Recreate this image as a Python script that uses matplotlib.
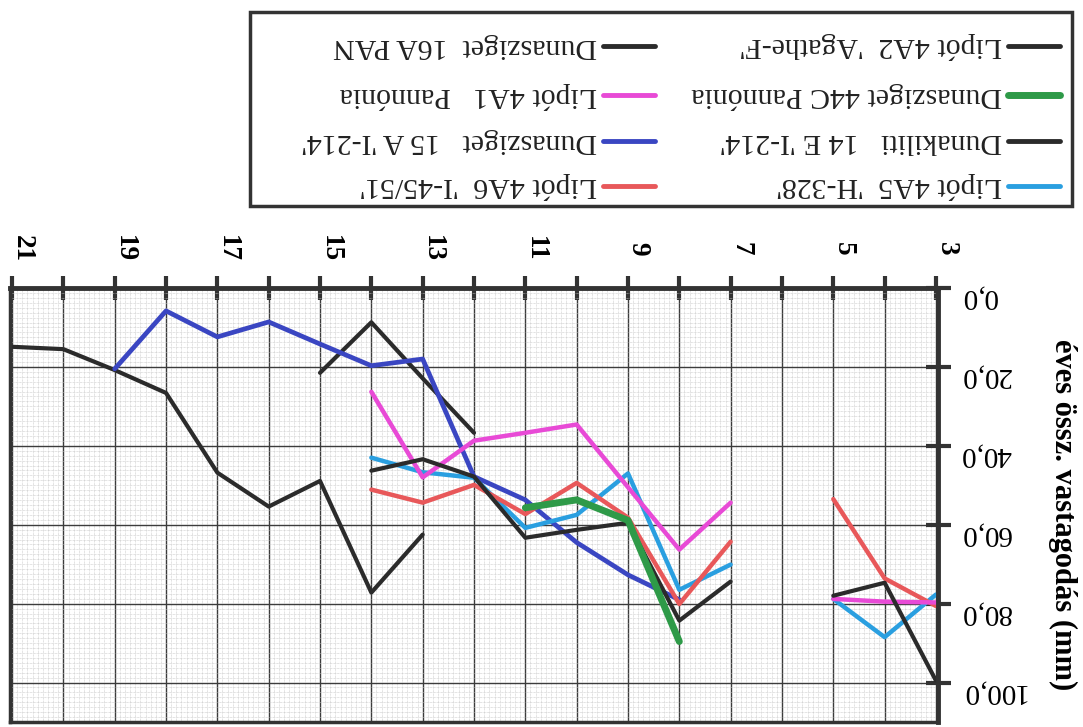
import numpy as np
import matplotlib
matplotlib.use("Agg")
import matplotlib.pyplot as plt
from matplotlib.lines import Line2D
from matplotlib.patches import Rectangle
from matplotlib.ticker import MultipleLocator
from matplotlib.transforms import ScaledTranslation

plt.rcParams['font.family'] = ['Liberation Serif', 'DejaVu Serif']

nan = np.nan

# ---- data: annual total thickening (mm) by tree age (years) ----
years_16a = [21, 20, 19, 18, 17, 16, 15, 14, 13]
dunasziget_16a = [14.9, 15.5, 20.8, 26.6, 46.8, 55.4, 48.9, 77.2, 62.5]

years_14e = [15, 14, 13, 12]
dunakiliti_14e = [21.5, 8.7, 22.9, 36.7]

years_15a = [19, 18, 17, 16, 15, 14, 13, 12, 11, 10, 9, 8]
dunasziget_15a = [20.5, 5.8, 12.4, 8.6, 14.2, 19.7, 18.0, 47.8, 53.7, 64.5, 72.7, 79.0]

years_lipot = [14, 13, 12, 11, 10, 9, 8, 7, 6, 5, 4, 3]
lipot_4a5 = [43.0, 46.7, 48.1, 60.8, 57.5, 47.0, 76.5, 70.1, nan, 78.8, 88.5, 77.7]
lipot_4a6 = [51.1, 54.4, 49.9, 57.3, 49.4, 58.2, 80.1, 64.3, nan, 53.5, 73.6, 80.6]
lipot_4a1 = [26.3, 48.0, 38.7, 36.7, 34.6, 50.5, 66.3, 54.4, nan, 78.8, 79.5, 79.7]
lipot_4a2 = [46.3, 43.4, 47.8, 63.3, 61.3, 59.5, 84.3, 74.4, nan, 78.0, 74.7, 99.5]

years_44c = [11, 10, 9, 8]
dunasziget_44c = [55.7, 53.7, 58.9, 89.6]

all_years = [3, 4, 5, 6, 7, 8, 9, 10, 11, 12, 13, 14, 15, 16, 17, 18, 19, 20, 21]
y_ticks = [0, 20, 40, 60, 80, 100]

C_BLACK = '#2b2b2b'
C_BLUE = '#3a46c2'
C_CYAN = '#2a9fe0'
C_RED = '#e8585a'
C_PINK = '#e84ad6'
C_GREEN = '#2e9a48'
C_AXIS = '#333333'

W, H = 1083, 727
fig = plt.figure(figsize=(W / 100, H / 100), dpi=100)
fig.patch.set_facecolor('white')

ax = fig.add_axes([10 / W, 1 - 722 / H, 928 / W, 434 / H])
ax.set_xlim(21.04, 2.96)
ax.set_ylim(110, 0)

# graph-paper background
ax.xaxis.set_minor_locator(MultipleLocator(0.1))
ax.yaxis.set_minor_locator(MultipleLocator(1.25))
ax.grid(which='minor', color='#c6c6c6', lw=0.5, linestyle=(0, (1, 1)))
ax.grid(which='major', color='#3c3c3c', lw=1.0)
ax.set_axisbelow(True)

ax.xaxis.tick_top()
ax.yaxis.tick_right()

x_labels = [str(y) if y % 2 == 1 else '' for y in all_years]
ax.set_xticks(all_years, labels=x_labels, rotation=270, fontweight='bold',
              ha='center', va='center')
ax.set_yticks(y_ticks, labels=[f'{v:.1f}'.replace('.', ',') for v in y_ticks],
              rotation=180, va='center', ha='left')

ax.tick_params(axis='x', which='major', direction='inout', length=17, width=3,
               color=C_AXIS, pad=20, labelsize=19.5)
ax.tick_params(axis='y', which='major', direction='inout', length=18, width=3,
               color=C_AXIS, pad=7, labelsize=21)
ax.tick_params(which='minor', length=0)

for lbl in ax.get_xticklabels():
    lbl.set_transform(lbl.get_transform() + ScaledTranslation(0.10, 0, fig.dpi_scale_trans))
for lbl in ax.get_yticklabels():
    lbl.set_transform(lbl.get_transform() + ScaledTranslation(0, -0.09, fig.dpi_scale_trans))

for name, s in ax.spines.items():
    s.set_color(C_AXIS)
    s.set_linewidth(3.5 if name in ('top', 'right') else 2.5)

ax.yaxis.set_label_position('right')
ax.set_ylabel('éves össz. vastagodás (mm)', fontsize=22, fontweight='bold')
ax.yaxis.label.set_rotation(270)
ax.yaxis.label.set_va('center')
ax.yaxis.label.set_ha('center')
ax.yaxis.set_label_coords(1.134, 0.477)

line_kw = dict(solid_capstyle='round', solid_joinstyle='round')
ax.plot(years_16a, dunasziget_16a, color=C_BLACK, lw=3.0, **line_kw)
ax.plot(years_14e, dunakiliti_14e, color=C_BLACK, lw=3.0, **line_kw)
ax.plot(years_15a, dunasziget_15a, color=C_BLUE, lw=3.4, **line_kw)
ax.plot(years_lipot, lipot_4a5, color=C_CYAN, lw=3.2, **line_kw)
ax.plot(years_lipot, lipot_4a6, color=C_RED, lw=3.2, **line_kw)
ax.plot(years_lipot, lipot_4a1, color=C_PINK, lw=3.2, **line_kw)
ax.plot(years_lipot, lipot_4a2, color=C_BLACK, lw=3.0, **line_kw)
ax.plot(years_44c, dunasziget_44c, color=C_GREEN, lw=5.0, **line_kw)

# ---- legend box (upside-down layout) ----
fig.add_artist(Rectangle((250 / W, 1 - 206 / H), 822 / W, 194 / H,
                         transform=fig.transFigure, fill=False,
                         lw=2.5, edgecolor=C_AXIS))

legend_rows = [46, 95, 141, 186]
legend_entries = [
    ("Lipót 4A2  'Agathe-F'", C_BLACK, 3.5, 1, 0),
    ("Dunasziget  16A PAN", C_BLACK, 3.5, 0, 0),
    ("Dunasziget 44C Pannónia", C_GREEN, 5.0, 1, 1),
    ("Lipót 4A1   Pannónia", C_PINK, 3.5, 0, 1),
    ("Dunakiliti   14 E 'I-214'", C_BLACK, 3.5, 1, 2),
    ("Dunasziget   15 A 'I-214'", C_BLUE, 3.5, 0, 2),
    ("Lipót 4A5  'H-328'", C_CYAN, 3.5, 1, 3),
    ("Lipót 4A6  'I-45/51'", C_RED, 3.5, 0, 3),
]
col_geom = {1: (1008, 1060, 1002), 0: (603, 655, 597)}
for text, color, lw, col, row in legend_entries:
    h0, h1, tx = col_geom[col]
    fy = 1 - legend_rows[row] / H
    fig.add_artist(Line2D([h0 / W, h1 / W], [fy, fy], transform=fig.transFigure,
                          color=color, lw=lw, solid_capstyle='round'))
    fig.text(tx / W, fy, text, rotation=180, ha='right', va='center',
             fontsize=21.5, color='#222222')

fig.savefig('out.png', dpi=100, facecolor='white')
